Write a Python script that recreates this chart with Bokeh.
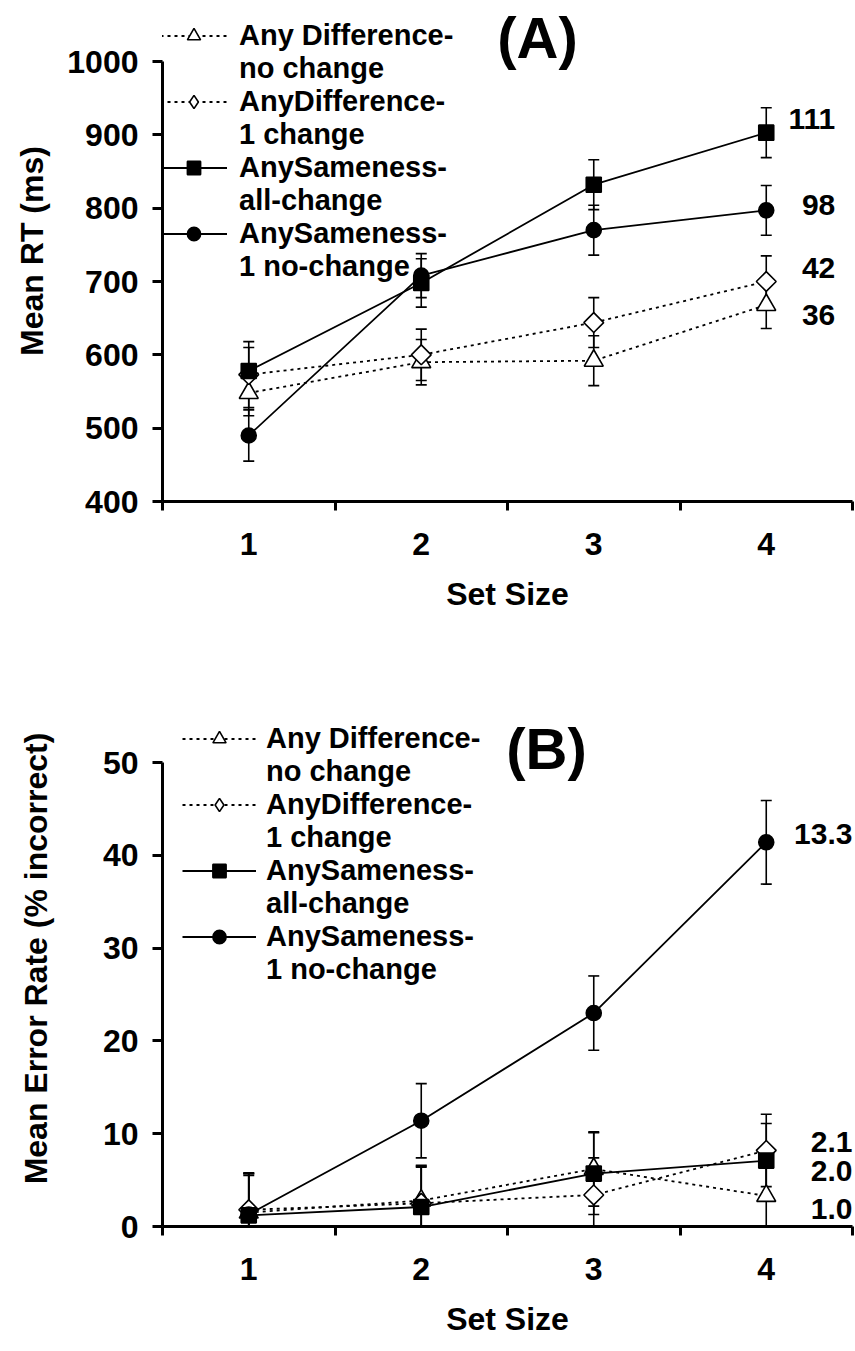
import numpy as np
from bokeh.plotting import figure
from bokeh.models import (ColumnDataSource, Whisker, TeeHead, FixedTicker, Legend,
                          LegendItem, Label)
from bokeh.layouts import column
from bokeh.embed import file_html
from bokeh.resources import INLINE
from bokeh.core.properties import value

# ---------------- data ----------------
set_size = [1, 2, 3, 4]
series_labels = [("Any Difference-", "no change"), ("AnyDifference-", "1 change"),
                 ("AnySameness-", "all-change"), ("AnySameness-", "1 no-change")]

# Panel A: mean RT (ms) and error bars
rt_diff_no_change = [548, 590, 592, 668]
rt_diff_no_change_se = [31, 31, 34, 32]
rt_diff_1_change = [573, 600, 644, 700]
rt_diff_1_change_se = [45, 35, 34, 35]
rt_same_all_change = [578, 698, 832, 903]
rt_same_all_change_se = [32, 33, 34, 34]
rt_same_1_no_change = [490, 708, 770, 797]
rt_same_1_no_change_se = [35, 30, 34, 34]
rt_slope_text = ["36", "42", "111", "98"]
rt_slope_y = [654, 719, 922, 805]
rt_ticks = [400, 500, 600, 700, 800, 900, 1000]

# Panel B: mean error rate (% incorrect) and error bars
er_diff_no_change = [1.5, 2.8, 6.2, 3.3]
er_diff_no_change_se = [4.2, 3.8, 4.0, 4.0]
er_diff_1_change = [1.8, 2.5, 3.4, 8.2]
er_diff_1_change_se = [4.0, 4.0, 4.0, 3.9]
er_same_all_change = [1.2, 2.1, 5.7, 7.1]
er_same_all_change_se = [4.3, 4.3, 4.4, 4.0]
er_same_1_no_change = [1.3, 11.4, 23.0, 41.4]
er_same_1_no_change_se = [4.4, 4.0, 4.0, 4.5]
er_slope_text = ["1.0", "2.1", "2.0", "13.3"]
er_slope_y = [1.9, 9.1, 6.0, 42.3]
er_ticks = [0, 10, 20, 30, 40, 50]

FONT = "Liberation Sans"

STYLES = [
    dict(marker="triangle", legend_marker="triangle", fill="white", dash="3 4", size=19, angle=0.0),
    dict(marker="square", legend_marker="diamond", fill="white", dash="3 4", size=14, angle=np.pi / 4),
    dict(marker="square", legend_marker="square", fill="black", dash="solid", size=15, angle=0.0),
    dict(marker="circle", legend_marker="circle", fill="black", dash="solid", size=15, angle=0.0),
]


def make_panel(series, y_range, y_bounds, y_ticks, ylabel, tag, slope_text, slope_y,
               slope_x, height, min_top, min_bottom, legend_loc, legend_glyph_w,
               legend_glyph_h, legend_standoff, tag_xy, ylabel_standoff,
               xlabel_standoff, xtitle_standoff):
    p = figure(width=855, height=height, x_range=(0.5, 4.5), y_range=y_range,
               output_backend="svg", toolbar_location=None,
               min_border_left=162, min_border_right=3,
               min_border_top=min_top, min_border_bottom=min_bottom)
    p.grid.visible = False
    p.outline_line_color = None
    p.background_fill_color = "white"
    p.border_fill_color = "white"

    # invisible renderer used for the second text line of each legend entry
    blank = p.scatter(x=[], y=[], marker="circle", size=1, fill_alpha=0, line_alpha=0)

    items = []
    for (vals, se), (lab1, lab2), st in zip(series, series_labels, STYLES):
        lower = [v - e for v, e in zip(vals, se)]
        upper = [v + e for v, e in zip(vals, se)]
        src = ColumnDataSource(dict(x=set_size, y=vals, lower=lower, upper=upper))
        w = Whisker(source=src, base="x", lower="lower", upper="upper",
                    line_color="black", line_width=1.6, level="underlay",
                    upper_head=TeeHead(size=11, line_width=1.6, line_color="black"),
                    lower_head=TeeHead(size=11, line_width=1.6, line_color="black"))
        p.add_layout(w)
        ln = p.line("x", "y", source=src, line_color="black", line_width=1.8,
                    line_dash=st["dash"])
        rend = [ln]
        if st["legend_marker"] != st["marker"]:
            # zero-size twin of the series, only used for the legend symbol
            proxy = p.scatter("x", "y", source=src, marker=st["legend_marker"], size=0,
                              fill_color=st["fill"], line_color="black", line_width=1.6)
            rend.append(proxy)
        sc = p.scatter("x", "y", source=src, marker=st["marker"], size=st["size"],
                       angle=st["angle"], fill_color=st["fill"], line_color="black",
                       line_width=1.6)
        if st["legend_marker"] == st["marker"]:
            rend.append(sc)
        items.append(LegendItem(label=lab1, renderers=rend))
        items.append(LegendItem(label=lab2, renderers=[blank]))

    tsrc = ColumnDataSource(dict(x=[slope_x] * len(slope_text), y=slope_y, t=slope_text))
    p.text("x", "y", text="t", source=tsrc, text_font=value(FONT), text_font_style="bold",
           text_font_size="30px", text_align="right", text_baseline="middle",
           text_color="black")

    leg = Legend(items=items, location=legend_loc, border_line_color=None,
                 background_fill_alpha=0, padding=0, margin=0, spacing=0,
                 glyph_width=legend_glyph_w, glyph_height=legend_glyph_h,
                 label_height=10, label_standoff=legend_standoff, label_text_font=FONT,
                 label_text_font_style="bold", label_text_font_size="29px",
                 label_text_line_height=0.9, label_text_color="black",
                 inactive_fill_alpha=0)
    p.add_layout(leg)

    p.add_layout(Label(x=tag_xy[0], y=tag_xy[1], x_units="screen", y_units="screen",
                       text=tag, text_font=FONT, text_font_style="bold",
                       text_font_size="58px", text_align="center",
                       text_baseline="middle", text_color="black"))

    xa = p.xaxis[0]
    xa.ticker = FixedTicker(ticks=set_size, minor_ticks=[0.5, 1.5, 2.5, 3.5, 4.5])
    xa.bounds = (0.5, 4.5)
    xa.axis_line_width = 3
    xa.axis_line_color = "black"
    xa.major_tick_line_color = None
    xa.major_tick_out = 9
    xa.major_tick_in = 0
    xa.minor_tick_line_color = "black"
    xa.minor_tick_line_width = 3
    xa.minor_tick_out = 9
    xa.minor_tick_in = 0
    xa.major_label_standoff = xlabel_standoff
    xa.major_label_text_font = FONT
    xa.major_label_text_font_style = "bold"
    xa.major_label_text_font_size = "32px"
    xa.major_label_text_color = "black"
    xa.axis_label = "Set Size"
    xa.axis_label_standoff = xtitle_standoff
    xa.axis_label_text_font = FONT
    xa.axis_label_text_font_style = "bold"
    xa.axis_label_text_font_size = "32px"
    xa.axis_label_text_color = "black"

    ya = p.yaxis[0]
    ya.ticker = FixedTicker(ticks=y_ticks, minor_ticks=[])
    ya.bounds = y_bounds
    ya.axis_line_width = 3
    ya.axis_line_color = "black"
    ya.major_tick_line_width = 3
    ya.major_tick_line_color = "black"
    ya.major_tick_out = 10
    ya.major_tick_in = 0
    ya.minor_tick_line_color = None
    ya.major_label_standoff = 14
    ya.major_label_text_font = FONT
    ya.major_label_text_font_style = "bold"
    ya.major_label_text_font_size = "32px"
    ya.major_label_text_color = "black"
    ya.axis_label = ylabel
    ya.axis_label_standoff = ylabel_standoff
    ya.axis_label_text_font = FONT
    ya.axis_label_text_font_style = "bold"
    ya.axis_label_text_font_size = "32px"
    ya.axis_label_text_color = "black"
    return p


series_a = [(rt_diff_no_change, rt_diff_no_change_se),
            (rt_diff_1_change, rt_diff_1_change_se),
            (rt_same_all_change, rt_same_all_change_se),
            (rt_same_1_no_change, rt_same_1_no_change_se)]
series_b = [(er_diff_no_change, er_diff_no_change_se),
            (er_diff_1_change, er_diff_1_change_se),
            (er_same_all_change, er_same_all_change_se),
            (er_same_1_no_change, er_same_1_no_change_se)]

# Panel A: frame top at page y=0, 1000 at y=61, 400 at y=501
pa = make_panel(series_a, (400, 1083.2), (400, 1000), rt_ticks, "Mean RT (ms)", "(A)",
                rt_slope_text, rt_slope_y, 4.4, height=621, min_top=0, min_bottom=120,
                legend_loc=(-2, 218), legend_glyph_w=67, legend_glyph_h=33,
                legend_standoff=12, tag_xy=(375, 464), ylabel_standoff=14,
                xlabel_standoff=22, xtitle_standoff=18)

# Panel B: frame top at page y=690, 50 at y=762, 0 at y=1226
pb = make_panel(series_b, (0, 57.76), (0, 50), er_ticks, "Mean Error Rate (% incorrect)",
                "(B)", er_slope_text, er_slope_y, 4.5, height=730, min_top=69,
                min_bottom=125, legend_loc=(20, 240), legend_glyph_w=74,
                legend_glyph_h=33, legend_standoff=10, tag_xy=(384, 478),
                ylabel_standoff=46, xlabel_standoff=22, xtitle_standoff=18)

layout = column(pa, pb, spacing=0)
open("out.html", "w").write(file_html(layout, INLINE))
